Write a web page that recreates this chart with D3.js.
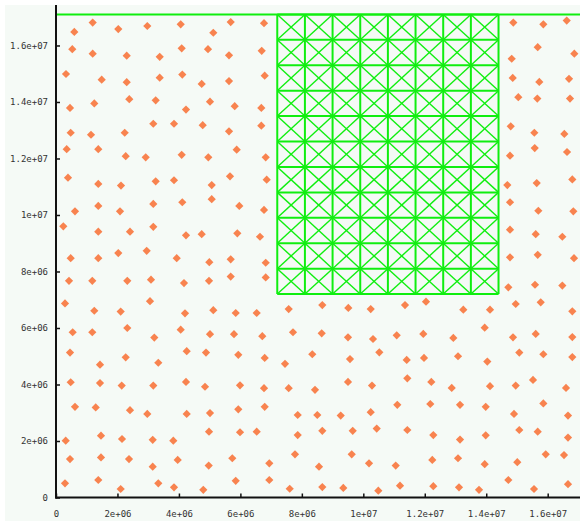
<!DOCTYPE html>
<html>
<head>
<meta charset="utf-8">
<script src="https://cdn.jsdelivr.net/npm/d3@7"></script>
<style>
  html, body { margin: 0; padding: 0; background: #ffffff; }
  svg { display: block; }
  .tick text { font-family: "DejaVu Sans Mono", monospace; font-size: 9px; fill: #333; }
</style>
</head>
<body>
<svg id="chart" width="580" height="521"></svg>
<script>
// Values are in millions; UNIT converts them to raw values.
const UNIT = 1e6;

// Scatter points: [x, y] in millions
const points = [
  [1.194,16.81],[0.596,16.48],[2.027,16.58],[2.971,16.69],[4.058,16.75],[5.119,16.45],[5.685,16.83],[6.769,16.79],
  [0.530,15.87],[1.194,15.71],[2.301,15.64],[3.375,15.60],[4.090,15.90],[4.946,15.87],[5.630,15.65],[6.694,15.81],
  [0.325,14.99],[1.487,14.79],[2.301,14.70],[3.375,14.86],[4.110,14.97],[4.741,14.64],[5.630,14.74],[6.791,14.93],
  [0.456,13.79],[1.246,13.95],[2.385,14.10],[3.244,14.06],[4.230,13.73],[5.011,14.01],[5.815,13.85],[6.681,13.79],
  [0.478,12.91],[1.139,12.84],[2.236,12.91],[3.166,13.23],[3.840,13.23],[4.774,13.18],[5.630,12.96],[6.681,13.16],
  [0.348,12.33],[1.376,12.33],[2.268,12.08],[2.919,12.04],[4.090,12.13],[4.956,12.04],[5.880,12.31],[6.824,12.04],
  [0.390,11.32],[1.376,11.10],[2.115,11.04],[3.244,11.19],[3.840,11.23],[5.067,11.06],[5.662,11.37],[6.856,11.25],
  [0.618,10.13],[1.376,10.32],[2.083,10.13],[3.166,10.39],[4.110,10.45],[5.067,10.56],[5.965,10.32],[6.769,10.18],
  [0.238,9.60],[1.376,9.41],[2.408,9.41],[3.166,9.58],[4.230,9.28],[4.741,9.32],[5.900,9.35],[6.638,9.23],
  [2.027,8.65],[2.951,8.73],[0.478,8.47],[1.376,8.47],[3.928,8.47],[4.989,8.33],[5.685,8.43],[6.824,8.31],
  [0.423,7.67],[1.181,7.67],[2.320,7.67],[3.091,7.71],[4.165,7.59],[4.979,7.67],[5.685,7.82],[6.824,7.79],
  [0.293,6.87],[1.246,6.61],[2.105,6.58],[3.059,6.95],[4.198,6.52],[5.119,6.63],[5.848,6.53],[6.531,6.53],
  [7.572,6.67],[8.666,6.81],[9.512,6.71],[10.241,6.67],[11.357,6.81],[12.040,6.93],[13.254,6.65],[14.123,6.65],
  [14.774,8.50],[15.675,8.59],[16.856,8.47],[14.719,7.44],[15.587,7.53],[16.476,7.50],[14.959,6.85],[15.773,6.91],[16.801,6.59],
  [0.543,5.85],[1.181,5.85],[2.320,6.00],[3.199,5.66],[4.058,5.94],[5.011,5.78],[5.792,5.78],[6.713,5.71],
  [7.712,5.85],[8.646,5.81],[9.502,5.67],[10.316,5.61],[11.087,5.74],[11.952,5.79],[12.929,5.65],[13.950,6.01],
  [14.871,5.67],[15.610,5.79],[16.801,5.68],
  [0.456,5.13],[1.432,4.70],[2.268,4.96],[3.329,4.77],[4.253,5.18],[4.881,5.13],[5.932,5.05],[6.791,4.94],
  [7.452,4.73],[8.340,5.07],[9.567,4.90],[10.521,5.14],[11.412,4.87],[11.975,4.94],[13.082,5.00],[14.035,4.81],
  [15.076,5.13],[15.858,5.07],[16.801,4.97],
  [0.478,4.08],[1.432,4.05],[2.138,3.96],[3.166,3.96],[4.230,4.09],[4.849,3.92],[5.988,3.97],[6.769,3.87],
  [7.572,3.87],[8.428,3.81],[9.502,4.09],[10.283,3.96],[11.432,4.22],[12.213,4.09],[12.877,3.88],[14.123,3.94],
  [14.959,3.96],[15.522,4.16],[16.596,3.88],
  [0.618,3.21],[1.292,3.19],[2.408,3.09],[2.971,2.96],[4.253,2.96],[5.011,2.99],[5.932,3.12],[6.791,3.21],
  [7.865,2.92],[8.503,2.92],[9.265,2.90],[10.241,3.02],[11.106,3.28],[12.180,3.31],[13.147,3.28],[13.983,3.21],
  [14.904,2.96],[15.858,3.33],[16.661,2.90],
  [0.316,2.01],[1.464,2.19],[2.148,2.07],[3.147,2.04],[3.817,2.01],[4.979,2.33],[5.988,2.31],[6.531,2.33],
  [7.865,2.21],[8.666,2.36],[9.655,2.36],[10.436,2.44],[11.432,2.39],[12.278,2.21],[13.147,2.05],[13.983,2.20],
  [15.076,2.39],[15.675,2.33],[16.661,2.12],
  [0.456,1.36],[1.464,1.42],[2.376,1.36],[3.147,1.09],[3.960,1.33],[4.969,1.13],[5.737,1.39],[6.941,1.21],
  [7.777,1.53],[8.558,1.09],[9.623,1.53],[10.186,1.21],[11.054,1.13],[12.245,1.33],[13.082,1.39],[13.950,1.18],
  [15.011,1.25],[15.936,1.53],[16.531,1.50],
  [0.293,0.50],[1.376,0.62],[2.105,0.30],[3.329,0.50],[3.840,0.36],[4.793,0.27],[5.848,0.59],[6.941,0.62],
  [7.605,0.31],[8.666,0.37],[9.349,0.34],[10.488,0.24],[11.194,0.42],[12.278,0.40],[13.114,0.36],[13.765,0.27],
  [14.719,0.62],[15.555,0.30],[16.661,0.47],
  [14.881,16.81],[15.858,16.75],[16.619,16.88],[15.675,15.94],[16.866,15.71],[14.829,15.53],
  [14.862,14.85],[15.727,14.71],[16.694,14.82],[15.044,14.17],[15.662,14.12],[16.726,14.12],
  [14.797,13.14],[15.565,12.91],[16.541,12.87],[15.578,12.37],[14.774,12.10],[16.629,12.23],
  [14.686,11.06],[15.643,11.13],[16.801,11.26],[14.774,10.45],[15.695,10.15],[16.834,10.13],
  [14.774,9.48],[15.610,9.32],[16.476,9.23]
];

// Hatched region (millions): x range, y range and cell size
const hatchX = [7.2, 14.4];
const hatchY = [7.2, 17.1];
const hatchStep = 0.9;

// Axis extents and ticks (millions)
const xMax = 17.1;
const yMax = 17.1;
const xTicks = [0, 2, 4, 6, 8, 10, 12, 14, 16];
const xTickLabels = ["0", "2e+06", "4e+06", "6e+06", "8e+06", "1e+07", "1.2e+07", "1.4e+07", "1.6e+07"];
const yTicks = [0, 2, 4, 6, 8, 10, 12, 14, 16];
const yTickLabels = ["0", "2e+06", "4e+06", "6e+06", "8e+06", "1e+07", "1.2e+07", "1.4e+07", "1.6e+07"];

(function () {
  const svg = d3.select("#chart");
  const W = 580, H = 521;
  const mLeft = 56, mBottom = 497.5, mRight = 581.5, mTop = 14.4;

  const x = d3.scaleLinear().domain([0, xMax * UNIT]).range([mLeft, mRight]);
  const y = d3.scaleLinear().domain([0, yMax * UNIT]).range([mBottom, mTop]);

  // panel background
  svg.append("rect").attr("x", 5).attr("y", 5).attr("width", W - 5).attr("height", H - 5)
    .attr("fill", "#f5faf6");

  const green = "#10ee10";

  // hatch grid: cell borders and both diagonals in each cell
  const gx = d3.range(hatchX[0], hatchX[1] + 1e-9, hatchStep);
  const gy = d3.range(hatchY[0], hatchY[1] + 1e-9, hatchStep);
  const hatch = svg.append("g").attr("stroke", green).attr("fill", "none");
  const diag = [];
  for (let i = 0; i < gx.length - 1; i++) {
    for (let j = 0; j < gy.length - 1; j++) {
      diag.push([gx[i], gy[j], gx[i + 1], gy[j + 1]]);
      diag.push([gx[i], gy[j + 1], gx[i + 1], gy[j]]);
    }
  }
  hatch.selectAll("line.diag").data(diag).join("line").attr("class", "diag")
    .attr("x1", d => x(d[0] * UNIT)).attr("y1", d => y(d[1] * UNIT))
    .attr("x2", d => x(d[2] * UNIT)).attr("y2", d => y(d[3] * UNIT))
    .attr("stroke-width", 1.4);
  hatch.selectAll("line.v").data(gx).join("line").attr("class", "v")
    .attr("x1", d => x(d * UNIT)).attr("x2", d => x(d * UNIT))
    .attr("y1", y(hatchY[0] * UNIT)).attr("y2", y(hatchY[1] * UNIT))
    .attr("stroke-width", 2);
  hatch.selectAll("line.h").data(gy).join("line").attr("class", "h")
    .attr("y1", d => y(d * UNIT)).attr("y2", d => y(d * UNIT))
    .attr("x1", x(hatchX[0] * UNIT)).attr("x2", x(hatchX[1] * UNIT))
    .attr("stroke-width", 2);

  // top boundary line
  svg.append("line")
    .attr("x1", mLeft).attr("x2", W)
    .attr("y1", y(yMax * UNIT)).attr("y2", y(yMax * UNIT))
    .attr("stroke", green).attr("stroke-width", 2);

  // scatter diamonds
  const r = 4.1;
  svg.append("g").selectAll("path").data(points).join("path")
    .attr("transform", d => `translate(${x(d[0] * UNIT)},${y(d[1] * UNIT)})`)
    .attr("d", `M0,${-r}L${r},0L0,${r}L${-r},0Z`)
    .attr("fill", "#f8834f");

  // axes with inward ticks
  const xAxis = d3.axisBottom(x)
    .tickValues(xTicks.map(v => v * UNIT))
    .tickFormat((d, i) => xTickLabels[i])
    .tickSizeInner(-4).tickSizeOuter(0).tickPadding(13);
  const gX = svg.append("g").attr("transform", `translate(0,${mBottom})`).call(xAxis);
  gX.select(".domain").remove();
  gX.selectAll(".tick line").attr("stroke", "#111").attr("stroke-width", 1.5);

  const yAxis = d3.axisLeft(y)
    .tickValues(yTicks.map(v => v * UNIT))
    .tickFormat((d, i) => yTickLabels[i])
    .tickSizeInner(-4).tickSizeOuter(0).tickPadding(8);
  const gY = svg.append("g").attr("transform", `translate(${mLeft},0)`).call(yAxis);
  gY.select(".domain").remove();
  gY.selectAll(".tick line").attr("stroke", "#111").attr("stroke-width", 1.5);

  // axis lines
  svg.append("line").attr("x1", mLeft).attr("x2", mLeft).attr("y1", 5).attr("y2", mBottom + 1)
    .attr("stroke", "#111").attr("stroke-width", 2);
  svg.append("line").attr("x1", mLeft - 1).attr("x2", W).attr("y1", mBottom).attr("y2", mBottom)
    .attr("stroke", "#111").attr("stroke-width", 2);
})();
</script>
</body>
</html>
